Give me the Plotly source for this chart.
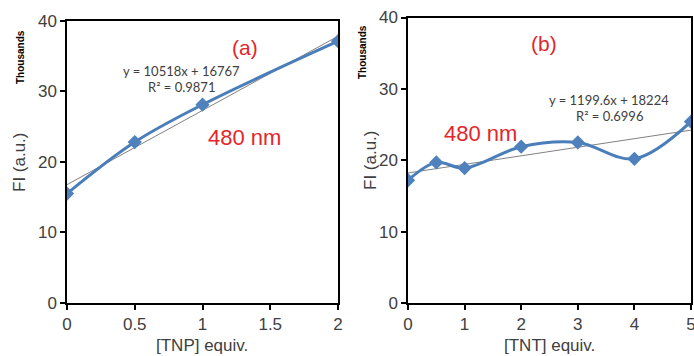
import plotly.graph_objects as go
import numpy as np

# ---- data ----
tnp_equiv = [0, 0.5, 1, 2]
tnp_fi = [15500, 22800, 28100, 37100]
tnp_fit = (10518, 16767)   # slope, intercept
tnp_r2 = 0.9871

tnt_equiv = [0, 0.5, 1, 2, 3, 4, 5]
tnt_fi = [17200, 19700, 18900, 21900, 22500, 20200, 25400]
tnt_fit = (1199.6, 18224)
tnt_r2 = 0.6996

y_ticks = [0, 10000, 20000, 30000, 40000]
y_ticklabels = ["0", "10", "20", "30", "40"]
tnp_ticks = [0, 0.5, 1, 1.5, 2]
tnp_ticklabels = ["0", "0.5", "1", "1.5", "2"]
tnt_ticks = [0, 1, 2, 3, 4, 5]
tnt_ticklabels = ["0", "1", "2", "3", "4", "5"]

W, H = 694, 356
LINE = "#4A7EBB"
MARK = "#4F81BD"
TXT = "#404040"
RED = "#E4262A"
FONT = "Liberation Sans, Arial, sans-serif"

fig = go.Figure()

def add_panel(xs, ys, fit, xa, ya):
    xx = np.array([min(xs), max(xs)], dtype=float)
    fig.add_trace(go.Scatter(x=xx, y=fit[0] * xx + fit[1], mode="lines",
                             line=dict(color="#808080", width=1),
                             xaxis=xa, yaxis=ya, showlegend=False, hoverinfo="skip"))
    fig.add_trace(go.Scatter(x=xs, y=ys, mode="lines+markers",
                             line=dict(color=LINE, width=3, shape="spline", smoothing=1),
                             marker=dict(symbol="diamond", size=11, color=MARK),
                             xaxis=xa, yaxis=ya, showlegend=False))

add_panel(tnp_equiv, tnp_fi, tnp_fit, "x", "y")
add_panel(tnt_equiv, tnt_fi, tnt_fit, "x2", "y2")

ax_common = dict(showline=True, linecolor="black", linewidth=1.5, mirror=True,
                 ticks="outside", ticklen=5, tickcolor="black", tickwidth=1.5,
                 showgrid=False, zeroline=False, automargin=False,
                 ticklabeloverflow="allow",
                 tickfont=dict(family=FONT, size=17, color=TXT))

def px_x(p): return p / W
def px_y(p): return 1 - p / H

fig.update_layout(
    width=W, height=H, margin=dict(l=0, r=0, t=0, b=0, pad=0, autoexpand=False),
    paper_bgcolor="white", plot_bgcolor="white",
    xaxis=dict(domain=[px_x(67), px_x(338)], range=[0, 2], tickvals=tnp_ticks,
               ticktext=tnp_ticklabels, anchor="y", **ax_common),
    yaxis=dict(domain=[px_y(303), px_y(20.7)], range=[0, 40000], tickvals=y_ticks,
               ticktext=y_ticklabels, anchor="x", **ax_common),
    xaxis2=dict(domain=[px_x(408), px_x(691)], range=[0, 5], tickvals=tnt_ticks,
                ticktext=tnt_ticklabels, anchor="y2", **ax_common),
    yaxis2=dict(domain=[px_y(303), px_y(17.5)], range=[0, 40000], tickvals=y_ticks,
                ticktext=y_ticklabels, anchor="x2", **ax_common),
)

def ann(x, y, text, size, color=TXT, angle=0, family=FONT, yanchor="middle"):
    fig.add_annotation(x=px_x(x), y=px_y(y), xref="paper", yref="paper", text=text,
                       showarrow=False, textangle=angle, xanchor="center", yanchor=yanchor,
                       borderpad=0, font=dict(family=family, size=size, color=color))

EQF = "Lato, Carlito, sans-serif"
# left panel
ann(202, 356, "[TNP] equiv.", 17, yanchor="bottom")
ann(19, 162, "FI (a.u.)", 17, angle=-90)
ann(20, 57, "<b>Thousands</b>", 10, color="black", angle=-90)
ann(245, 47, "(a)", 21, color=RED)
ann(244, 138, "480 nm", 22, color=RED)
ann(181, 71, f"y = {tnp_fit[0]:g}x + {tnp_fit[1]:g}", 13, family=EQF)
ann(181, 87, f"R² = {tnp_r2:g}", 13, family=EQF)
# right panel
ann(549, 356, "[TNT] equiv.", 17, yanchor="bottom")
ann(370, 160, "FI (a.u.)", 17, angle=-90)
ann(362, 52, "<b>Thousands</b>", 10, color="black", angle=-90)
ann(544, 44, "(b)", 21, color=RED)
ann(481, 133, "480 nm", 22, color=RED)
ann(609, 100, f"y = {tnt_fit[0]:g}x + {tnt_fit[1]:g}", 13, family=EQF)
ann(609, 116, f"R² = {tnt_r2:g}", 13, family=EQF)

fig.write_html("out.html")
